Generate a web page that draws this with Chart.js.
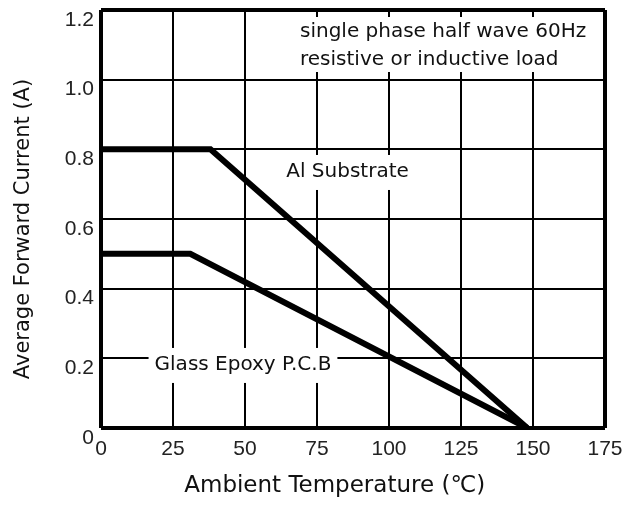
<!DOCTYPE html>
<html>
<head>
<meta charset="utf-8">
<script src="https://cdn.jsdelivr.net/npm/chart.js@4/dist/chart.umd.min.js"></script>
<style>
  html, body { margin: 0; padding: 0; background: #fff; }
  #wrap { width: 632px; height: 505px; }
</style>
</head>
<body>
<div id="wrap"><canvas id="c"></canvas></div>
<script>
// ---- data ----
const xTicks = [0, 25, 50, 75, 100, 125, 150, 175];
const yTicks = [0, 0.2, 0.4, 0.6, 0.8, 1.0, 1.2];

const alTemp = [0, 38, 148];
const alCurrent = [0.8, 0.8, 0];

const glassTemp = [0, 31, 148];
const glassCurrent = [0.5, 0.5, 0];

const seriesNames = ['Al Substrate', 'Glass Epoxy P.C.B'];
const noteLines = ['single phase half wave 60Hz', 'resistive or inductive load'];

const xTitle = 'Ambient Temperature (\u2103)';
const yTitle = 'Average Forward Current (A)';

function toPoints(xs, ys) { return xs.map((x, i) => ({ x: x, y: ys[i] })); }

const TXT = "'DejaVu Sans', sans-serif";
const NUM = "'Liberation Sans', Arial, sans-serif";

// labels drawn on white boxes (in data coordinates)
const labelSpecs = [
  { text: seriesNames[0], x: 85.6, y: 0.735 },
  { text: seriesNames[1], x: 49.3, y: 0.181 }
];

const annotPlugin = {
  id: 'annot',
  beforeDatasetsDraw(chart) {
    const { ctx, chartArea, scales } = chart;
    const xs = scales.x, ys = scales.y;
    ctx.save();
    ctx.font = '20px ' + TXT;
    ctx.textBaseline = 'middle';
    // top note box
    const nx = xs.getPixelForValue(69.1);
    const ny1 = ys.getPixelForValue(1.137);
    const ny2 = ys.getPixelForValue(1.056);
    ctx.fillStyle = '#fff';
    ctx.fillRect(nx - 6, chartArea.top + 7, chartArea.right - 3 - (nx - 6), 55);
    ctx.fillStyle = '#111';
    ctx.textAlign = 'left';
    ctx.fillText(noteLines[0], nx, ny1);
    ctx.fillText(noteLines[1], nx, ny2);
    // series labels
    ctx.textAlign = 'center';
    labelSpecs.forEach(l => {
      const px = xs.getPixelForValue(l.x), py = ys.getPixelForValue(l.y);
      const w = ctx.measureText(l.text).width;
      ctx.fillStyle = '#fff';
      ctx.fillRect(px - w / 2 - 6, py - 17, w + 12, 35);
      ctx.fillStyle = '#111';
      ctx.fillText(l.text, px, py);
    });
    ctx.restore();
  }
};

const edgeWidth = (ctx, max) => (ctx.tick && (ctx.tick.value === 0 || ctx.tick.value === max)) ? 4 : 2;

new Chart(document.getElementById('c'), {
  type: 'scatter',
  data: {
    datasets: [
      { label: seriesNames[0], data: toPoints(alTemp, alCurrent), showLine: true,
        borderColor: '#000', borderWidth: 6, pointRadius: 0, fill: false, borderJoinStyle: 'miter' },
      { label: seriesNames[1], data: toPoints(glassTemp, glassCurrent), showLine: true,
        borderColor: '#000', borderWidth: 6, pointRadius: 0, fill: false, borderJoinStyle: 'miter' }
    ]
  },
  options: {
    responsive: true,
    maintainAspectRatio: false,
    animation: false,
    layout: { padding: { left: 0, right: 27, top: 10, bottom: 0 } },
    plugins: { legend: { display: false }, tooltip: { enabled: false } },
    scales: {
      x: {
        type: 'linear', min: 0, max: 175,
        afterBuildTicks: s => { s.ticks = xTicks.map(v => ({ value: v })); },
        afterFit: s => { s.height = 77; s.paddingLeft = 0; s.paddingRight = 0; },
        grid: { color: '#000', lineWidth: c => edgeWidth(c, 175), drawTicks: false },
        border: { display: false },
        ticks: { color: '#222', font: { family: NUM, size: 21 }, padding: 9, maxRotation: 0,
                 callback: v => String(v) },
        title: { display: true, text: xTitle + '     ', color: '#111',
                 font: { family: TXT, size: 23 }, padding: { top: 0, bottom: 5 } }
      },
      y: {
        type: 'linear', min: 0, max: 1.2,
        afterBuildTicks: s => { s.ticks = yTicks.map(v => ({ value: v })); },
        afterFit: s => { s.width = 101; s.paddingTop = 0; s.paddingBottom = 0; },
        grid: { color: '#000', lineWidth: c => edgeWidth(c, 1.2), drawTicks: false },
        border: { display: false },
        ticks: { color: '#222', font: { family: NUM, size: 21 }, padding: 7, labelOffset: 10,
                 callback: v => (v === 0 ? '0' : v.toFixed(1)) },
        title: { display: true, text: yTitle + '   ', color: '#111',
                 font: { family: TXT, size: 21 }, padding: { top: 11, bottom: 0 } }
      }
    }
  },
  plugins: [annotPlugin]
});
</script>
</body>
</html>
